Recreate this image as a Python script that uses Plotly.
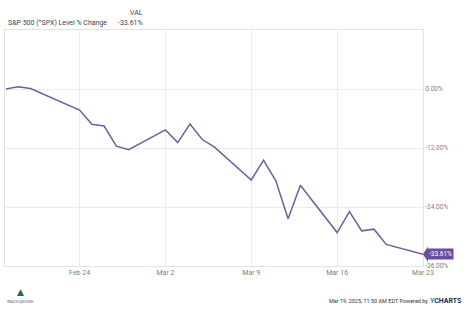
import plotly.graph_objects as go

dates = ["2020-02-18", "2020-02-19", "2020-02-20", "2020-02-21", "2020-02-24", "2020-02-25",
         "2020-02-26", "2020-02-27", "2020-02-28", "2020-03-02", "2020-03-03", "2020-03-04",
         "2020-03-05", "2020-03-06", "2020-03-09", "2020-03-10", "2020-03-11", "2020-03-12",
         "2020-03-13", "2020-03-16", "2020-03-17", "2020-03-18", "2020-03-19", "2020-03-20",
         "2020-03-23"]
pct_change = [0.00, 0.47, 0.09, -0.97, -4.29, -7.19, -7.53, -11.62, -12.34, -8.31, -10.89, -7.13,
              -10.28, -11.81, -18.51, -14.48, -18.66, -26.40, -19.56, -29.20, -24.96, -28.85,
              -28.51, -31.61, -33.61]
x_tick_vals = ["2020-02-24", "2020-03-02", "2020-03-09", "2020-03-16", "2020-03-23"]
x_tick_text = ["Feb 24", "Mar 2", "Mar 9", "Mar 16", "Mar 23"]
y_tick_vals = [0, -12, -24, -36]
y_tick_text = ["0.00%", "-12.00%", "-24.00%", "-36.00%"]
series_name = "S&P 500 (^SPX) Level % Change"
last_value = "-33.61%"

LINE = "#6e5f9c"
TAG = "#6a4ca0"
GRID = "#ececec"
TXT = "#808080"

PW, PH, L, T = 418, 236, 5, 30


def px(x):
    return (x - L) / PW


def py(y):
    return 1 - (y - T) / PH


fig = go.Figure()
fig.add_trace(go.Scatter(x=dates, y=pct_change, mode="lines",
                         line=dict(color=LINE, width=1.5), hoverinfo="skip"))

fig.update_layout(
    width=468, height=310,
    margin=dict(l=5, r=45, t=30, b=44),
    paper_bgcolor="white", plot_bgcolor="white",
    showlegend=False,
    font=dict(family="Roboto", size=7, color=TXT),
    xaxis=dict(range=["2020-02-17 22:00", "2020-03-23"], tickvals=x_tick_vals, ticktext=x_tick_text,
               showgrid=True, gridcolor=GRID, gridwidth=1, zeroline=False,
               showline=True, linecolor="#e2e2e2", mirror=True, ticks="",
               tickfont=dict(size=7, color=TXT)),
    yaxis=dict(range=[-36, 12], tickvals=y_tick_vals, ticktext=y_tick_text, side="right",
               showgrid=True, gridcolor=GRID, gridwidth=1, zeroline=False,
               showline=True, linecolor="#e2e2e2", mirror=True, ticks="",
               tickfont=dict(size=6.5, color=TXT)),
)

# value tag at right
fig.add_annotation(x=1, xref="paper", y=pct_change[-1], yref="y", xanchor="left", yanchor="middle",
                   xshift=4, text=last_value, showarrow=False,
                   font=dict(size=6.5, color="white", family="Roboto"),
                   bgcolor=TAG, borderpad=1)
fig.add_shape(type="path", xref="paper", yref="y",
              path=f"M 1.0 {pct_change[-1]} L 1.012 {pct_change[-1] + 1.6} L 1.012 {pct_change[-1] - 1.6} Z",
              fillcolor=TAG, line=dict(width=0))

# header
HDR = dict(size=7, color="#444444", family="Roboto")
fig.add_annotation(x=px(145), y=py(12.5), xref="paper", yref="paper", text="VAL", showarrow=False,
                   xanchor="right", yanchor="middle", font=HDR)
fig.add_annotation(x=px(5.5), y=py(23), xref="paper", yref="paper",
                   text=series_name, showarrow=False, xanchor="left", yanchor="middle", font=HDR)
fig.add_annotation(x=px(145), y=py(23), xref="paper", yref="paper",
                   text=last_value, showarrow=False, xanchor="right", yanchor="middle", font=HDR)

# footer
fig.add_annotation(x=px(430), y=py(301), xref="paper", yref="paper",
                   text="Mar 19, 2025, 11:50 AM EDT Powered by", showarrow=False,
                   xanchor="right", yanchor="middle",
                   font=dict(size=5.5, color="#333333", family="Roboto"))
fig.add_annotation(x=px(464), y=py(300.5), xref="paper", yref="paper",
                   text="<b><span style='color:#2f7de1'>Y</span>CHARTS</b>", showarrow=False,
                   xanchor="right", yanchor="middle",
                   font=dict(size=7, color="#1c2b4a", family="Roboto"))
fig.add_annotation(x=px(20), y=py(292), xref="paper", yref="paper",
                   text="▲", showarrow=False, xanchor="center", yanchor="middle",
                   font=dict(size=9, color="#1f6b45", family="DejaVu Sans"))
fig.add_annotation(x=px(20), y=py(302), xref="paper", yref="paper",
                   text="WEALTH ADVISORS", showarrow=False, xanchor="center", yanchor="middle",
                   font=dict(size=3, color="#555555", family="Roboto"))

fig.write_html("out.html")
